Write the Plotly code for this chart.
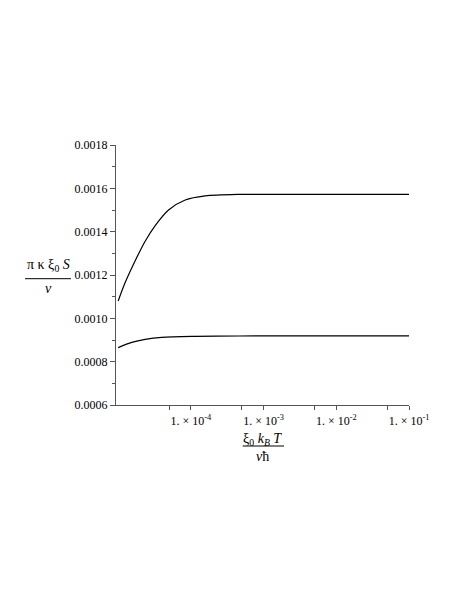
import plotly.graph_objects as go

# Data
x_upper = [1.0e-5, 1.247e-5, 1.714e-5, 2.35e-5, 3.23e-5, 4.93e-5, 8.36e-5, 1.57e-4, 4.53e-4, 1.0e-3, 1.0e-2, 1.0e-1]
y_upper = [0.00108, 0.001165, 0.001266, 0.001356, 0.001428, 0.0015, 0.001546, 0.001565, 0.001572, 0.001572, 0.001572, 0.001572]

x_lower = [1.0e-5, 1.54e-5, 2.35e-5, 3.99e-5, 1.15e-4, 4.53e-4, 1.0e-3, 1.0e-2, 1.0e-1]
y_lower = [0.000865, 0.000889, 0.000903, 0.0009125, 0.000917, 0.0009185, 0.000919, 0.000919, 0.000919]

x_tickvals = [1e-4, 1e-3, 1e-2, 1e-1]
x_ticktext = ["1. × 10<sup>-4</sup>", "1. × 10<sup>-3</sup>", "1. × 10<sup>-2</sup>", "1. × 10<sup>-1</sup>"]
x_minor = [5e-5, 5e-4, 5e-3, 5e-2]
y_tickvals = [0.0006, 0.0008, 0.0010, 0.0012, 0.0014, 0.0016, 0.0018]
y_ticktext = ["0.0006", "0.0008", "0.0010", "0.0012", "0.0014", "0.0016", "0.0018"]

FONT = "Liberation Serif"

fig = go.Figure()
for xs, ys in [(x_upper, y_upper), (x_lower, y_lower)]:
    fig.add_trace(go.Scatter(x=xs, y=ys, mode="lines",
                             line=dict(color="black", width=1.2, shape="spline", smoothing=0.8),
                             showlegend=False, hoverinfo="skip"))

fig.update_layout(
    width=463, height=599,
    margin=dict(l=116, r=54, t=145, b=194),
    paper_bgcolor="white", plot_bgcolor="white",
    font=dict(family=FONT, size=12, color="black"),
    xaxis=dict(type="log", range=[-5.03, -1.0], showgrid=False, zeroline=False,
               showline=True, linecolor="#555", linewidth=1.3,
               ticks="outside", ticklen=4, tickcolor="#555", tickwidth=1,
               tickvals=x_tickvals, ticktext=x_ticktext,
               tickfont=dict(family=FONT, size=12, color="black"),
               minor=dict(tickvals=x_minor, ticks="outside", ticklen=4, tickcolor="#555")),
    yaxis=dict(range=[0.0006, 0.0018], showgrid=False, zeroline=False,
               showline=True, linecolor="#555", linewidth=1.3,
               ticks="outside", ticklen=5, tickcolor="#555", tickwidth=1,
               tickvals=y_tickvals, ticktext=y_ticktext,
               tickfont=dict(family=FONT, size=12, color="black"),
               minor=dict(dtick=0.0001, ticks="outside", ticklen=3, tickcolor="#555")),
)

ann = dict(xref="paper", yref="paper", showarrow=False, xanchor="center", yanchor="middle",
           font=dict(family=FONT, size=14, color="black"))
fig.add_annotation(x=-0.232, y=0.538, text="π κ ξ<sub>0</sub> <i>S</i>", **ann)
fig.add_annotation(x=-0.232, y=0.450, text="<i>v</i>", **ann)
fig.add_shape(type="line", xref="paper", yref="paper", x0=-0.3106, x1=-0.1536, y0=0.4858, y1=0.4858,
              line=dict(color="black", width=1))

fig.add_annotation(x=0.5017, y=-0.132, text="ξ<sub>0</sub> <i>k<sub>B</sub></i> <i>T</i>", **ann)
fig.add_annotation(x=0.5017, y=-0.197, text="<i>v</i>ħ", **ann)
fig.add_shape(type="line", xref="paper", yref="paper", x0=0.4324, x1=0.5734, y0=-0.1577, y1=-0.1577,
              line=dict(color="black", width=1))

fig.write_html("out.html", config={"displayModeBar": False},
               post_script="document.body.style.margin='0';")
